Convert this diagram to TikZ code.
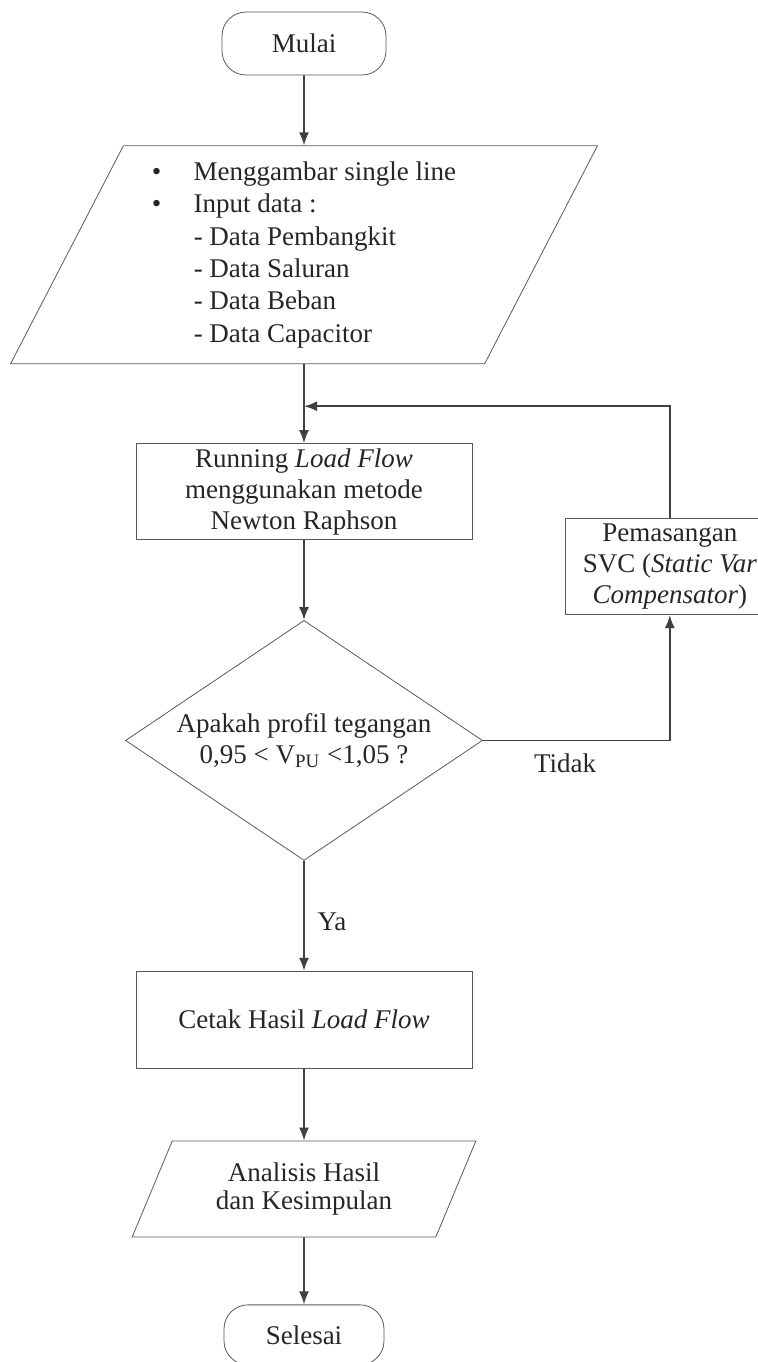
\documentclass[tikz,border=0pt]{standalone}
\usepackage{fontspec}
\setmainfont{Liberation Serif}
\usetikzlibrary{arrows.meta, positioning, shapes.geometric}
\tikzset{
  terminal/.style={draw=black!65, rounded corners=12pt, minimum width=82pt, minimum height=31.5pt, inner sep=0pt},
  proc/.style={draw=black!65, minimum width=168pt, minimum height=48pt, align=center, inner sep=0pt},
  io/.style={draw=black!65, trapezium, trapezium stretches=true, trapezium left angle=63,
    trapezium right angle=117, inner sep=0pt},
  decision/.style={draw=black!65, diamond, aspect=1.49, minimum width=178.5pt, minimum height=120pt,
    inner sep=0pt, align=center},
  arr/.style={-{Latex[length=6.5pt, width=5pt]}, line width=0.9pt, draw=black!75},
}

\begin{document}
\begin{tikzpicture}[x=0.5pt, y=-0.5pt,
    every node/.style={font=\fontsize{13.5}{15.5}\selectfont, text=black!85}]
  \useasboundingbox (0,0) rectangle (758,1362);

  \node[terminal] (mulai) at (304,43.5) {Mulai};
  \node[io, below=35pt of mulai, minimum width=293.5pt, minimum height=109pt, align=left,
    font=\fontsize{13.5}{16.2}\selectfont] (inp) {%
    \makebox[21pt][l]{\textbullet}Menggambar single line\\
    \makebox[21pt][l]{\textbullet}Input data :\\
    \hspace*{21pt}- Data Pembangkit\\
    \hspace*{21pt}- Data Saluran\\
    \hspace*{21pt}- Data Beban\\
    \hspace*{21pt}- Data Capacitor};
  \node[proc, below=39.5pt of inp] (run) {Running \textit{Load Flow}\\ menggunakan metode\\ Newton Raphson};
  % box runs past the right edge of the page, as in the scan
  \node[proc, right=46.5pt of run, yshift=-37.5pt, minimum width=104pt] (svc)
    {Pemasangan\\ SVC (\textit{Static Var}\\ \textit{Compensator})};
  \node[decision, below=40pt of run] (dec) {Apakah profil tegangan\\ 0,95 < V\textsubscript{PU} <1,05 ?};
  \node[proc, below=55pt of dec, minimum height=48.5pt] (cetak) {Cetak Hasil \textit{Load Flow}};
  \node[io, below=36pt of cetak, minimum width=172pt, minimum height=48pt, align=center,
    font=\fontsize{13.5}{14}\selectfont] (ana) {Analisis Hasil\\ dan Kesimpulan};
  \node[terminal, below=33.5pt of ana, minimum width=80pt, minimum height=30pt] (sel) {Selesai};

  \coordinate[above=18.5pt of run.north] (join);

  \draw[arr] (mulai) -- (inp);
  \draw[arr] (inp) -- (run);
  \draw[arr] (run) -- (dec);
  \draw[arr] (dec) -- node[right=3pt, pos=0.55] {Ya} (cetak);
  \draw[arr] (cetak) -- (ana);
  \draw[arr] (ana) -- (sel);
  \draw[arr] (dec) -| node[below=3pt, pos=0.22] {Tidak} (svc);
  \draw[arr] (svc) |- (join);
\end{tikzpicture}
\end{document}
